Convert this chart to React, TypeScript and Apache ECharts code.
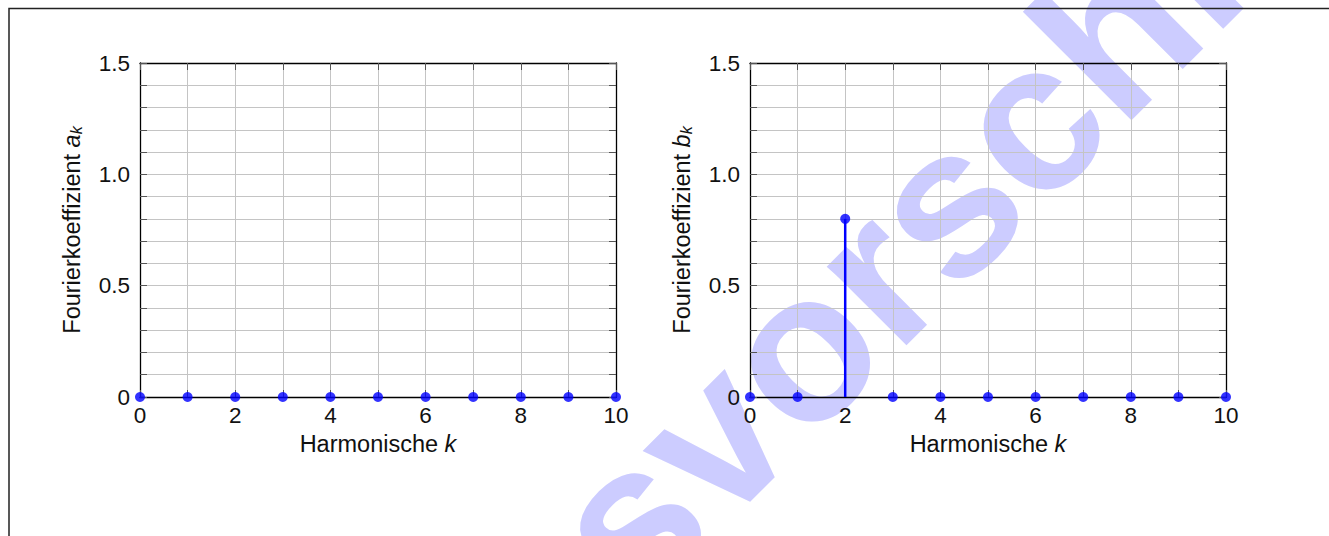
import React, { useEffect, useRef } from "react";
import * as echarts from "echarts";

// ---- data ----
const harmonics = [0, 1, 2, 3, 4, 5, 6, 7, 8, 9, 10];
const aCoeffs = [0, 0, 0, 0, 0, 0, 0, 0, 0, 0, 0];
const bCoeffs = [0, 0, 0.8, 0, 0, 0, 0, 0, 0, 0, 0];
const xLabelValues = [0, 2, 4, 6, 8, 10];
const yLabelValues = [0, 0.5, 1.0, 1.5];
const yLabelTexts = ["0", "0.5", "1.0", "1.5"];
const xName = "Harmonische {i|k}";
const yNames = ["Fourierkoeffizient {i|a}{s|k}", "Fourierkoeffizient {i|b}{s|k}"];
const watermarkText = "Lösungsvorschlag";

const FONT = "'Liberation Sans', Helvetica, Arial, sans-serif";
const BLUE = "#0000ff";
const NAME_SIZE = 23.5;
const TICK_SIZE = 22.5;

function makeRich() {
  return {
    i: { fontFamily: FONT, fontSize: NAME_SIZE, fontStyle: "italic", color: "#111" },
    s: {
      fontFamily: FONT,
      fontSize: 16,
      fontStyle: "italic",
      color: "#111",
      verticalAlign: "bottom",
      lineHeight: 14,
    },
  };
}

function buildOption() {
  const grids = [
    { left: 140, top: 63, width: 476, height: 334 },
    { left: 750, top: 63, width: 476, height: 334 },
  ];
  const series = [aCoeffs, bCoeffs];
  const xAxis: any[] = [];
  const yAxis: any[] = [];
  const allSeries: any[] = [];
  grids.forEach((g, gi) => {
    xAxis.push({
      type: "value",
      gridIndex: gi,
      min: 0,
      max: 10,
      interval: 1,
      position: "bottom",
      name: xName,
      nameLocation: "middle",
      nameGap: 31,
      nameTextStyle: { fontFamily: FONT, fontSize: NAME_SIZE, color: "#111", rich: makeRich() },
      axisLine: { show: true, onZero: false, lineStyle: { color: "#000", width: 1.3 } },
      axisTick: { show: true, inside: true, length: 7, lineStyle: { color: "#555" } },
      axisLabel: {
        show: true,
        margin: 7,
        fontFamily: FONT,
        fontSize: TICK_SIZE,
        color: "#111",
        formatter: (v: number) => (xLabelValues.indexOf(Math.round(v)) >= 0 && Math.abs(v - Math.round(v)) < 1e-6 ? String(Math.round(v)) : ""),
      },
      splitLine: { show: true, lineStyle: { color: "#c4c4c4", width: 1 } },
    });
    xAxis.push({
      type: "value",
      gridIndex: gi,
      min: 0,
      max: 10,
      interval: 1,
      position: "top",
      axisLine: { show: true, onZero: false, lineStyle: { color: "#000", width: 1.3 } },
      axisTick: { show: true, inside: true, length: 7, lineStyle: { color: "#555" } },
      axisLabel: { show: false },
      splitLine: { show: false },
    });
    yAxis.push({
      type: "value",
      gridIndex: gi,
      min: 0,
      max: 1.5,
      interval: 0.1,
      position: "left",
      name: yNames[gi],
      nameLocation: "middle",
      nameGap: 56,
      nameTextStyle: { fontFamily: FONT, fontSize: NAME_SIZE, color: "#111", rich: makeRich() },
      axisLine: { show: true, onZero: false, lineStyle: { color: "#000", width: 1.3 } },
      axisTick: { show: true, inside: true, length: 7, lineStyle: { color: "#555" } },
      axisLabel: {
        show: true,
        margin: 10,
        fontFamily: FONT,
        fontSize: TICK_SIZE,
        color: "#111",
        formatter: (v: number) => {
          for (let k = 0; k < yLabelValues.length; k++) {
            if (Math.abs(v - yLabelValues[k]) < 1e-6) return yLabelTexts[k];
          }
          return "";
        },
      },
      splitLine: { show: true, lineStyle: { color: "#c4c4c4", width: 1 } },
    });
    yAxis.push({
      type: "value",
      gridIndex: gi,
      min: 0,
      max: 1.5,
      interval: 0.1,
      position: "right",
      axisLine: { show: true, onZero: false, lineStyle: { color: "#000", width: 1.3 } },
      axisTick: { show: true, inside: true, length: 7, lineStyle: { color: "#555" } },
      axisLabel: { show: false },
      splitLine: { show: false },
    });
    const pts = harmonics.map((k, i) => [k, series[gi][i]]);
    allSeries.push({
      type: "bar",
      xAxisIndex: gi * 2,
      yAxisIndex: gi * 2,
      data: pts,
      barWidth: 2.5,
      itemStyle: { color: BLUE },
      z: 3,
    });
    allSeries.push({
      type: "scatter",
      xAxisIndex: gi * 2,
      yAxisIndex: gi * 2,
      data: pts,
      symbol: "circle",
      symbolSize: 10,
      clip: false,
      itemStyle: { color: BLUE },
      z: 4,
    });
  });

  return {
    animation: false,
    backgroundColor: "#fff",
    grid: grids,
    xAxis,
    yAxis,
    series: allSeries,
    graphic: [
      {
        type: "text",
        x: 711,
        y: 437,
        rotation: Math.PI / 4,
        z: -10,
        silent: true,
        style: {
          text: watermarkText,
          fontFamily: FONT,
          fontWeight: "bold",
          fontSize: 212,
          fill: "#ccccff",
          align: "center",
          verticalAlign: "middle",
        },
      },
      {
        type: "rect",
        z: -9,
        silent: true,
        shape: { x: 9, y: 8.5, width: 1400, height: 600 },
        style: { fill: "none", stroke: "#222", lineWidth: 1.5 },
      },
    ],
  };
}

export default function App() {
  const ref = useRef<HTMLDivElement>(null);
  useEffect(() => {
    if (!ref.current) return;
    const chart = echarts.init(ref.current, null, { renderer: "svg" });
    chart.setOption(buildOption() as any);
    return () => chart.dispose();
  }, []);
  return (
    <div
      ref={ref}
      style={{ position: "absolute", left: 0, top: 0, width: 1329, height: 536 }}
    />
  );
}
